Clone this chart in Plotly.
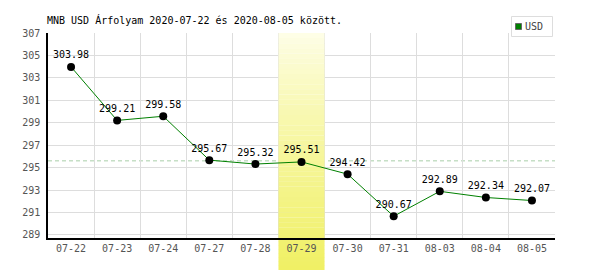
import plotly.graph_objects as go

dates = ["07-22", "07-23", "07-24", "07-27", "07-28", "07-29", "07-30", "07-31", "08-03", "08-04", "08-05"]
usd = [303.98, 299.21, 299.58, 295.67, 295.32, 295.51, 294.42, 290.67, 292.89, 292.34, 292.07]
highlight_index = 5
title_text = "MNB USD Árfolyam 2020-07-22 és 2020-08-05 között."
series_name = "USD"

FONT = "DejaVu Sans Mono"
W, H = 600, 270
ML, MR, MT, MB = 48, 45, 33, 32
PW, PH = W - ML - MR, H - MT - MB
Y0, Y1 = 288.73, 307


def px_x(px):
    return (px - ML) / PW


def px_y(py):
    return (H - MB - py) / PH


def y_to_px(v):
    return MT + (Y1 - v) / (Y1 - Y0) * PH


def band_color(py):
    t = (py - MT) / (H - MT)
    t = max(0.0, min(1.0, t)) ** 0.8
    top = (254, 254, 234)
    bot = (240, 240, 100)
    c = [round(a + (b - a) * t) for a, b in zip(top, bot)]
    return "rgb(%d,%d,%d)" % tuple(c)


fig = go.Figure()
fig.add_trace(go.Scatter(
    x=dates, y=usd, mode="lines+markers+text",
    line=dict(color="#008000", width=1),
    marker=dict(color="black", size=8),
    text=["%.2f" % v for v in usd], textposition="top center",
    textfont=dict(family=FONT, size=10, color="black"),
    showlegend=False, cliponaxis=False,
))

shapes = []
avg = sum(usd) / len(usd)
shapes.append(dict(type="line", xref="paper", yref="y", x0=0, x1=1, y0=avg, y1=avg,
                   line=dict(color="#a8cfa8", width=1, dash="4px,3px"), layer="between"))

# highlight band inside plot area (above grid)
n = 40
for i in range(n):
    ya = Y1 - (Y1 - Y0) * i / n
    yb = Y1 - (Y1 - Y0) * (i + 1) / n
    pym = (y_to_px(ya) + y_to_px(yb)) / 2
    shapes.append(dict(type="rect", xref="x", yref="y", x0=highlight_index - 0.5, x1=highlight_index + 0.5,
                       y0=yb, y1=ya + 0.01, fillcolor=band_color(pym), line=dict(width=0), layer="between"))
# below the plot area
n2 = 8
for i in range(n2):
    pa = H - MB + (MB) * i / n2
    pb = H - MB + (MB) * (i + 1) / n2
    shapes.append(dict(type="rect", xref="x", yref="paper", x0=highlight_index - 0.5, x1=highlight_index + 0.5,
                       y0=px_y(pb), y1=px_y(pa) + 0.001, fillcolor=band_color((pa + pb) / 2),
                       line=dict(width=0), layer="below"))

# legend box
shapes.append(dict(type="rect", xref="paper", yref="paper", x0=px_x(511.5), x1=px_x(552.5),
                   y0=px_y(36.5), y1=px_y(16.5), line=dict(color="#dddddd", width=1), fillcolor="white"))
shapes.append(dict(type="rect", xref="paper", yref="paper", x0=px_x(515.5), x1=px_x(521.5),
                   y0=px_y(29.5), y1=px_y(23.5), line=dict(color="#666666", width=1), fillcolor="#008000"))

annotations = [dict(text=series_name, xref="paper", yref="paper", x=px_x(523), y=px_y(26.5),
                    xanchor="left", yanchor="middle", showarrow=False,
                    font=dict(family=FONT, size=10, color="#444444"))]

fig.update_layout(
    width=W, height=H,
    margin=dict(l=ML, r=MR, t=MT, b=MB),
    paper_bgcolor="white", plot_bgcolor="white",
    title=dict(text=title_text, x=47 / W, xanchor="left", y=1 - 20 / H, yanchor="middle",
               font=dict(family=FONT, size=10, color="black")),
    showlegend=False,
    shapes=shapes,
    annotations=annotations,
    xaxis=dict(type="category", range=[-0.5, len(dates) - 0.5], tickson="boundaries",
               showgrid=True, gridcolor="#dddddd", gridwidth=1,
               showline=True, linecolor="black", linewidth=1.5, ticks="", zeroline=False,
               tickfont=dict(family=FONT, size=10, color="#555555")),
    yaxis=dict(range=[Y0, Y1], tickvals=list(range(289, 308, 2)),
               showgrid=True, gridcolor="#dddddd", gridwidth=1,
               showline=True, linecolor="black", linewidth=1.5, ticks="", zeroline=False,
               ticklabelstandoff=4,
               tickfont=dict(family=FONT, size=10, color="#555555")),
)

fig.write_html("out.html")
